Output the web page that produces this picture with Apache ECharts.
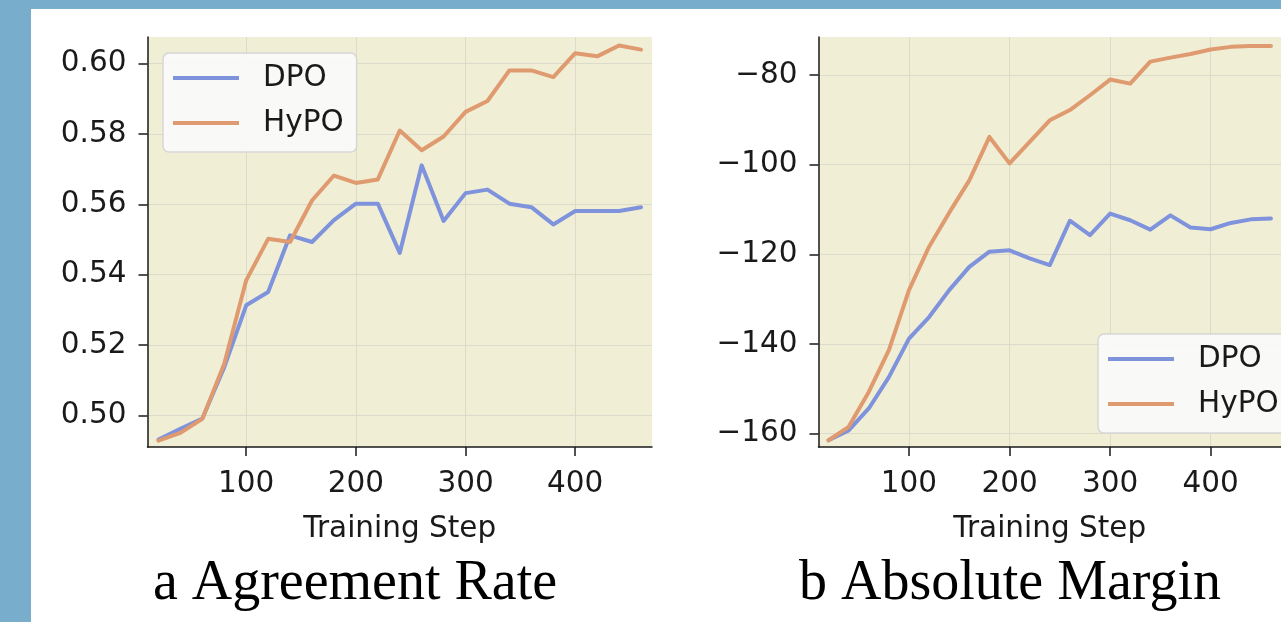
<!DOCTYPE html>
<html>
<head>
<meta charset="utf-8">
<script src="https://cdn.jsdelivr.net/npm/echarts@6/dist/echarts.min.js"></script>
<style>
html, body { margin: 0; padding: 0; background: #fff; }
#main { width: 1281px; height: 622px; }
</style>
</head>
<body>
<div id="main"></div>
<script>
// training steps
var steps = [20, 40, 60, 80, 100, 120, 140, 160, 180, 200, 220, 240, 260, 280, 300, 320, 340, 360, 380, 400, 420, 440, 460];
// a Agreement Rate
var agreeDPO = [0.4931, 0.4962, 0.4991, 0.5137, 0.5313, 0.5351, 0.5512, 0.5493, 0.5555, 0.5602, 0.5602, 0.5462,
	0.5711, 0.5553, 0.5632, 0.5642, 0.5602, 0.5592, 0.5543, 0.5581, 0.5581, 0.5581, 0.5592];
var agreeHyPO = [0.4928, 0.4950, 0.4990, 0.5147, 0.5384, 0.5502, 0.5493, 0.5611, 0.5682, 0.5661, 0.5671, 0.5810,
	0.5754, 0.5793, 0.5863, 0.5894, 0.5981, 0.5981, 0.5962, 0.6030, 0.6021, 0.6052, 0.6040];
// b Absolute Margin
var marginDPO = [-161.5, -159.3, -154.4, -147.4, -138.8, -134.0, -128.0, -122.8, -119.4, -119.1, -120.9, -122.4,
	-112.5, -115.7, -110.9, -112.4, -114.5, -111.3, -114.0, -114.4, -113.0, -112.2, -112.0];
var marginHyPO = [-161.5, -158.5, -150.7, -141.4, -128.0, -118.3, -110.7, -103.5, -93.8, -99.7, -94.9, -90.1,
	-87.8, -84.5, -81.0, -81.9, -77.0, -76.1, -75.3, -74.3, -73.7, -73.5, -73.5];
var xTicks = [100, 200, 300, 400];
var agreeTicks = [0.50, 0.52, 0.54, 0.56, 0.58, 0.60];
var marginTicks = [-160, -140, -120, -100, -80];

var BLUE = '#7f93dc', ORANGE = '#df9a70';
var INK = '#1a1a1a';
var FONT = 'DejaVu Sans';
var FS = 29.5;

function pairs(xs, ys) {
	var out = [];
	for (var i = 0; i < xs.length; i++) out.push([xs[i], ys[i]]);
	return out;
}

function makeX(idx) {
	return {
		type: 'value', gridIndex: idx, min: 10, max: 470,
		name: 'Training Step', nameLocation: 'middle', nameGap: 67,
		nameTextStyle: { fontFamily: FONT, fontSize: FS, color: INK },
		axisLine: { show: true, lineStyle: { color: INK, width: 1.5 } },
		axisTick: { show: true, customValues: xTicks, length: 9, lineStyle: { color: INK, width: 1.5 } },
		axisLabel: { customValues: xTicks, margin: 22, fontFamily: FONT, fontSize: FS, color: INK },
		splitLine: { show: true, lineStyle: { color: '#dcdacb', width: 1 } }
	};
}

function makeY(idx, min, max, ticks, fmt) {
	return {
		type: 'value', gridIndex: idx, min: min, max: max,
		axisLine: { show: true, lineStyle: { color: INK, width: 1.5 } },
		axisTick: { show: true, customValues: ticks, length: 9, lineStyle: { color: INK, width: 1.5 } },
		axisLabel: { customValues: ticks, margin: 21, fontFamily: FONT, fontSize: FS, color: INK, formatter: fmt },
		splitLine: { show: true, lineStyle: { color: '#dcdacb', width: 1 } }
	};
}

function makeLegend(left, top) {
	return {
		orient: 'vertical', left: left, top: top,
		data: ['DPO', 'HyPO'],
		icon: 'rect', itemWidth: 66, itemHeight: 4, itemGap: 15,
		padding: [10, 13, 14, 10],
		backgroundColor: 'rgba(250,250,250,0.92)',
		borderColor: '#d6d6d6', borderWidth: 1.5, borderRadius: 6,
		textStyle: { fontFamily: FONT, fontSize: FS, color: INK, lineHeight: 30, padding: [0, 0, 0, 19] }
	};
}

function makeLine(name, idx, ys, color) {
	return {
		type: 'line', name: name, xAxisIndex: idx, yAxisIndex: idx,
		data: pairs(steps, ys), showSymbol: false, animation: false,
		lineStyle: { color: color, width: 4, join: 'round', cap: 'round' },
		itemStyle: { color: color }
	};
}

var chart = echarts.init(document.getElementById('main'));
chart.setOption({
	backgroundColor: '#ffffff',
	animation: false,
	grid: [
		{ left: 147.5, top: 37, width: 504.5, height: 410, show: true, backgroundColor: '#f0efd6', borderWidth: 0 },
		{ left: 818.5, top: 37, width: 489, height: 410, show: true, backgroundColor: '#f0efd6', borderWidth: 0 }
	],
	xAxis: [makeX(0), makeX(1)],
	yAxis: [
		makeY(0, 0.491, 0.6076, agreeTicks, function(v) { return v.toFixed(2); }),
		makeY(1, -163, -71.5, marginTicks, function(v) { return (v < 0 ? '\u2212' : '') + Math.abs(v); })
	],
	legend: [makeLegend(163, 53), makeLegend(1098, 334)],
	series: [
		makeLine('DPO', 0, agreeDPO, BLUE),
		makeLine('HyPO', 0, agreeHyPO, ORANGE),
		makeLine('DPO', 1, marginDPO, BLUE),
		makeLine('HyPO', 1, marginHyPO, ORANGE)
	],
	graphic: [
		{ type: 'rect', shape: { x: 0, y: 0, width: 31, height: 622 }, style: { fill: '#78aecb' }, silent: true },
		{ type: 'rect', shape: { x: 0, y: 0, width: 1281, height: 9 }, style: { fill: '#78aecb' }, silent: true },
		{ type: 'text', x: 355, y: 584, style: { text: 'a Agreement Rate', textAlign: 'center', textVerticalAlign: 'middle',
			font: '56px "Liberation Serif", "Times New Roman", serif', fill: '#000' } },
		{ type: 'text', x: 1010, y: 584, style: { text: 'b Absolute Margin', textAlign: 'center', textVerticalAlign: 'middle',
			font: '56px "Liberation Serif", "Times New Roman", serif', fill: '#000' } }
	]
});
</script>
</body>
</html>
